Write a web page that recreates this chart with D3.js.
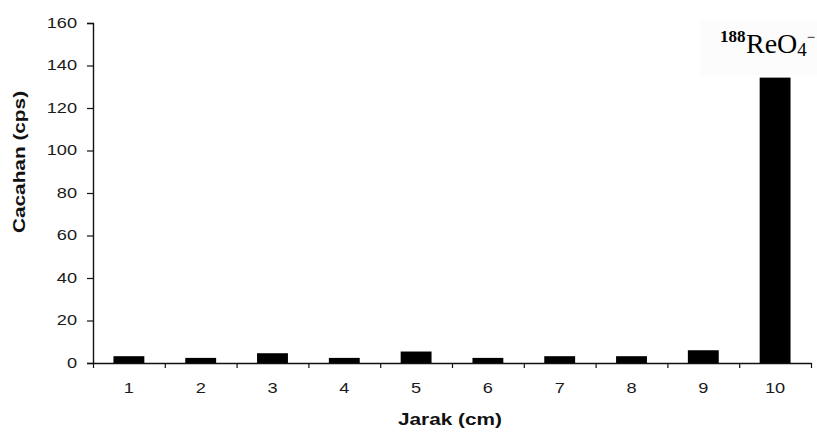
<!DOCTYPE html>
<html>
<head>
<meta charset="utf-8">
<script src="https://cdn.jsdelivr.net/npm/d3@7"></script>
<style>
  html, body { margin: 0; padding: 0; background: #fff; }
  svg { display: block; }
</style>
</head>
<body>
<svg id="chart" width="817" height="433"></svg>
<script>
// ---- data ----
const categories = ["1", "2", "3", "4", "5", "6", "7", "8", "9", "10"];
const counts = [3.2, 2.4, 4.6, 2.4, 5.4, 2.4, 3.2, 3.2, 6.0, 134.3];
const yTicks = [0, 20, 40, 60, 80, 100, 120, 140, 160];
const xTitle = "Jarak (cm)";
const yTitle = "Cacahan (cps)";

// ---- layout ----
const plotL = 93, plotR = 811, plotT = 23, plotB = 363;
const stretch = 1.3;

const svg = d3.select("#chart");

const x = d3.scaleBand().domain(categories).range([plotL, plotR])
  .paddingInner(0.57).paddingOuter(0.285);
const xb = d3.scaleLinear().domain([0, categories.length]).range([plotL, plotR]);
const y = d3.scaleLinear().domain([0, 160]).range([plotB, plotT]);

// label box (behind)
svg.append("rect").attr("x", 700).attr("y", 20).attr("width", 117).attr("height", 55)
  .attr("fill", "#fcfcfc");

// bars
svg.append("g").selectAll("rect").data(counts).join("rect")
  .attr("x", (d, i) => x(categories[i]))
  .attr("width", x.bandwidth())
  .attr("y", d => y(d))
  .attr("height", d => y(0) - y(d))
  .attr("fill", "#000");

// y axis
const gy = svg.append("g").attr("transform", `translate(${plotL},0)`)
  .call(d3.axisLeft(y).tickValues(yTicks).tickSizeOuter(0).tickSize(6).tickPadding(3));
gy.select(".domain").attr("stroke", "#111").attr("stroke-width", 1.4);
gy.selectAll(".tick line").attr("stroke", "#111").attr("stroke-width", 1.2);
gy.selectAll(".tick text")
  .attr("font-family", "Liberation Sans, Arial, sans-serif")
  .attr("font-size", 14).attr("fill", "#1a1a1a")
  .attr("x", -16 / stretch)
  .attr("transform", `scale(${stretch},1)`);

// x axis (boundary ticks)
const gx = svg.append("g").attr("transform", `translate(0,${plotB})`)
  .call(d3.axisBottom(xb).tickValues(d3.range(0, categories.length + 1)).tickSize(5).tickSizeOuter(0).tickFormat(""));
gx.select(".domain").attr("stroke", "#111").attr("stroke-width", 1.4);
gx.selectAll(".tick line").attr("stroke", "#111").attr("stroke-width", 1.2);

// x category labels
const gxl = svg.append("g").attr("transform", `translate(0,${plotB})`)
  .call(d3.axisBottom(x).tickSize(0).tickPadding(0));
gxl.select(".domain").remove();
gxl.selectAll(".tick text")
  .attr("font-family", "Liberation Sans, Arial, sans-serif")
  .attr("font-size", 14).attr("fill", "#1a1a1a")
  .attr("y", 30).attr("dy", 0)
  .attr("transform", `scale(${stretch},1)`);

// axis titles
svg.append("text")
  .attr("transform", `translate(450,425) scale(${stretch},1)`)
  .attr("text-anchor", "middle")
  .attr("font-family", "Liberation Sans, Arial, sans-serif")
  .attr("font-weight", "bold").attr("font-size", 16).attr("fill", "#111")
  .text(xTitle);

svg.append("text")
  .attr("transform", `translate(25,162) rotate(-90) scale(${stretch},1)`)
  .attr("text-anchor", "middle")
  .attr("font-family", "Liberation Sans, Arial, sans-serif")
  .attr("font-weight", "bold").attr("font-size", 16).attr("fill", "#111")
  .text(yTitle);

// annotation label
const lab = svg.append("text")
  .attr("x", 720).attr("y", 53)
  .attr("font-family", "Liberation Serif, Times New Roman, serif")
  .attr("fill", "#000");
lab.append("tspan").attr("font-weight", "bold").attr("font-size", 17).attr("dy", -11).text("188");
lab.append("tspan").attr("font-size", 28).attr("dy", 11).attr("x", 746).text("ReO");
lab.append("tspan").attr("font-size", 19).attr("dy", 3).text("4");
lab.append("tspan").attr("font-size", 15).attr("dy", -14).text("−");
</script>
</body>
</html>
